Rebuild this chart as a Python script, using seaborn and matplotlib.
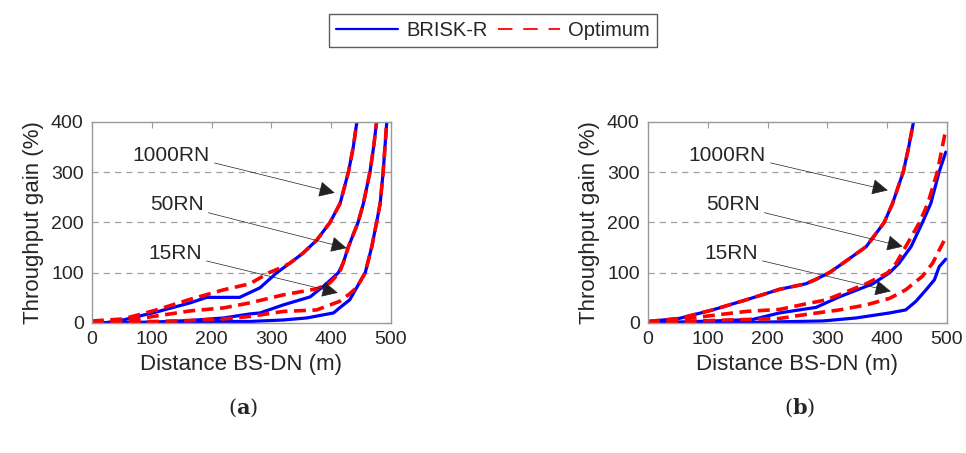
import matplotlib.pyplot as plt
import seaborn as sns
from matplotlib.lines import Line2D

sns.set_style("white")
plt.rcParams['font.family'] = ['Liberation Sans', 'DejaVu Sans']
plt.rcParams['mathtext.fontset'] = 'dejavuserif'

# ---- panel (a) curves ----
a1000_brisk_x = [0, 25, 52, 108, 164, 192, 247, 281, 309, 331, 353, 376, 398, 415, 429, 437, 443]
a1000_brisk_y = [0, 1, 6, 22, 40, 51, 51, 70, 100, 119, 139, 165, 200, 238, 301, 350, 400]
a1000_opt_x = [0, 52, 108, 164, 220, 264, 296, 320, 331, 353, 376, 398, 415, 429, 437, 443]
a1000_opt_y = [4, 8, 26, 47, 66, 78, 100, 112, 119, 139, 165, 200, 238, 301, 350, 400]

a50_brisk_x = [0, 108, 164, 220, 264, 281, 320, 365, 392, 412, 420, 429, 445, 454, 465, 471, 476]
a50_brisk_y = [0, 2, 5, 10, 18, 20, 36, 52, 78, 100, 119, 152, 200, 238, 301, 350, 400]
a50_opt_x = [0, 52, 108, 164, 220, 264, 320, 376, 398, 414, 420, 429, 445, 454, 465, 471, 476]
a50_opt_y = [1, 4, 14, 24, 30, 40, 56, 68, 80, 100, 119, 152, 200, 238, 301, 350, 400]

a15_brisk_x = [0, 108, 164, 220, 264, 320, 359, 404, 414, 431, 443, 457, 468, 476, 482, 487, 490, 493]
a15_brisk_y = [0, 1, 2, 3, 3, 6, 10, 20, 30, 46, 71, 100, 152, 200, 238, 301, 350, 400]
a15_opt_x = [0, 108, 164, 220, 264, 320, 376, 414, 431, 443, 457, 468, 476, 482, 487, 490, 493]
a15_opt_y = [1, 3, 5, 8, 13, 23, 26, 43, 58, 71, 100, 152, 200, 238, 301, 350, 400]

# ---- panel (b) curves ----
b1000_brisk_x = [0, 52, 108, 164, 220, 264, 281, 303, 326, 365, 395, 409, 427, 436, 444]
b1000_brisk_y = [3, 9, 26, 46, 67, 78, 87, 100, 119, 152, 200, 238, 301, 350, 400]
b1000_opt_x = [0, 52, 108, 164, 220, 264, 281, 303, 326, 365, 395, 409, 427, 436, 444]
b1000_opt_y = [3, 9, 26, 46, 67, 78, 87, 100, 119, 152, 200, 238, 301, 350, 400]

b50_brisk_x = [0, 108, 175, 220, 264, 281, 320, 376, 404, 420, 440, 459, 473, 487, 498]
b50_brisk_y = [0, 4, 7, 20, 28, 31, 52, 78, 100, 119, 152, 200, 238, 301, 340]
b50_opt_x = [0, 52, 108, 164, 220, 264, 298, 365, 401, 415, 431, 454, 468, 484, 498]
b50_opt_y = [1, 7, 15, 23, 27, 38, 46, 78, 100, 119, 152, 200, 238, 301, 385]

b15_brisk_x = [0, 164, 292, 348, 404, 431, 448, 465, 479, 487, 498]
b15_brisk_y = [0, 1, 4, 10, 20, 26, 43, 66, 86, 112, 127]
b15_opt_x = [0, 164, 220, 264, 320, 365, 404, 431, 459, 476, 487, 498]
b15_opt_y = [1, 7, 9, 17, 26, 36, 49, 66, 93, 119, 145, 170]

labels = ['1000RN', '50RN', '15RN']
label_pos = [(68, 334), (97, 235), (94, 139)]
a_arrow_tips = [(406, 259), (426, 149), (411, 60)]
b_arrow_tips = [(401, 264), (426, 152), (406, 63)]

blue = '#0000ff'
red = '#ff0000'

fig = plt.figure(figsize=(9.66, 4.53), dpi=100)
ax_a = fig.add_axes([0.0952, 0.287, 0.3095, 0.4437])
ax_b = fig.add_axes([0.6708, 0.287, 0.3095, 0.4437])

panels = [
    (ax_a, [(a1000_brisk_x, a1000_brisk_y, a1000_opt_x, a1000_opt_y),
            (a50_brisk_x, a50_brisk_y, a50_opt_x, a50_opt_y),
            (a15_brisk_x, a15_brisk_y, a15_opt_x, a15_opt_y)], a_arrow_tips, 'a', 0.2516),
    (ax_b, [(b1000_brisk_x, b1000_brisk_y, b1000_opt_x, b1000_opt_y),
            (b50_brisk_x, b50_brisk_y, b50_opt_x, b50_opt_y),
            (b15_brisk_x, b15_brisk_y, b15_opt_x, b15_opt_y)], b_arrow_tips, 'b', 0.828),
]

for ax, curves, tips, cap, cap_x in panels:
    for bx, by, ox, oy in curves:
        sns.lineplot(x=bx, y=by, ax=ax, color=blue, lw=2.3, sort=False)
        sns.lineplot(x=ox, y=oy, ax=ax, color=red, lw=2.6, sort=False,
                     linestyle=(0, (3.3, 1.8)))

    for lab, (tx, ty), (hx, hy) in zip(labels, label_pos, tips):
        ax.annotate(lab, xy=(hx, hy), xytext=(tx, ty), fontsize=15,
                    ha='left', va='center',
                    arrowprops=dict(arrowstyle='-|>,head_length=0.5,head_width=0.25',
                                    color='#222222', lw=0.5, mutation_scale=20,
                                    relpos=(1.0, 0.15), shrinkA=1, shrinkB=0))

    # horizontal dashed grid
    for gy in [100, 200, 300]:
        ax.axhline(gy, color='#a0a0a0', lw=0.9, linestyle=(0, (5, 4)), zorder=0)

    ax.set_xlim(0, 500)
    ax.set_ylim(0, 400)
    ax.set_xticks([0, 100, 200, 300, 400, 500])
    ax.set_yticks([0, 100, 200, 300, 400])
    ax.tick_params(direction='in', length=4, width=0.8, color='#999999',
                   top=True, right=True, labelsize=14, pad=6)
    for s in ax.spines.values():
        s.set_color('#999999')
        s.set_linewidth(1.0)
    ax.set_xlabel('Distance BS-DN (m)', fontsize=16, labelpad=4)
    ax.set_ylabel('Throughput gain (%)', fontsize=16, labelpad=5)

    fig.text(cap_x, 0.099, r'($\mathbf{' + cap + r'}$)', fontsize=15,
             family='DejaVu Serif', ha='center', va='center')

handles = [Line2D([], [], color=blue, lw=1.6),
           Line2D([], [], color=red, lw=1.3, linestyle=(0, (8, 6)))]
leg = fig.legend(handles, ['BRISK-R', 'Optimum'], loc='center',
                 bbox_to_anchor=(0.51, 0.932), ncol=2, fontsize=14.5,
                 frameon=True, fancybox=False, handlelength=3.1,
                 columnspacing=0.5, handletextpad=0.4, borderpad=0.35,
                 borderaxespad=0)
leg.get_frame().set_edgecolor('#333333')
leg.get_frame().set_linewidth(1.0)

fig.savefig('out.png', dpi=100)
